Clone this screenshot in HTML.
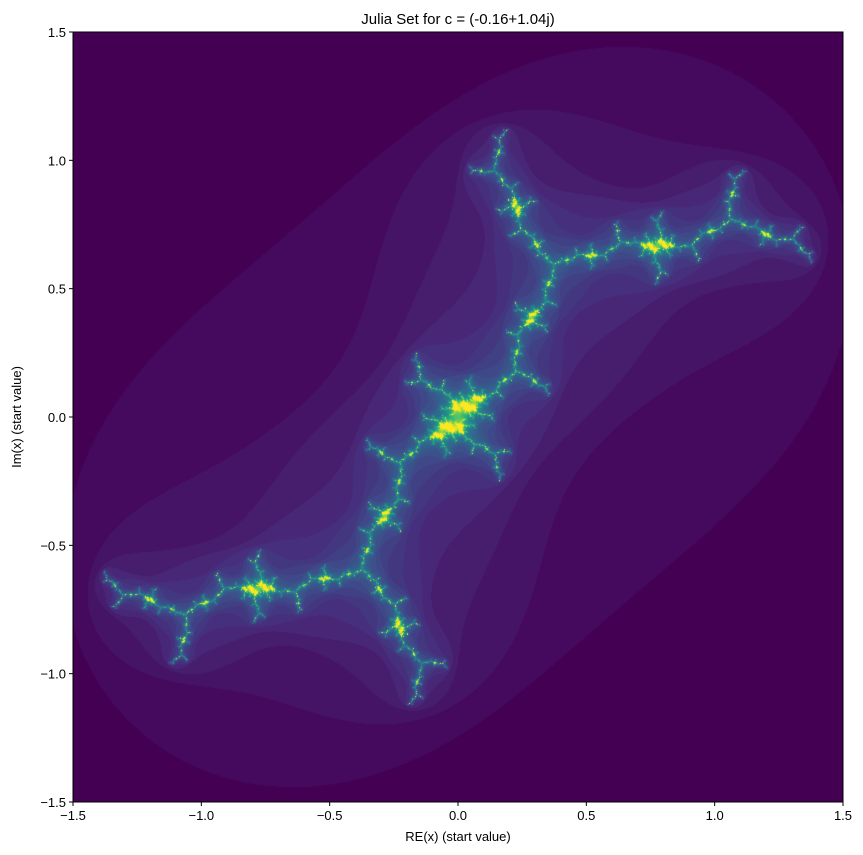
<!DOCTYPE html>
<html><head><meta charset="utf-8"><style>
html,body{margin:0;padding:0;background:#fff;width:863px;height:855px;overflow:hidden;font-family:"Liberation Sans",sans-serif;}
#wrap{position:relative;width:863px;height:855px;}
canvas{position:absolute;left:73px;top:32px;}
</style></head><body>
<div id="wrap">
<canvas id="cv" width="770" height="770"></canvas>
<svg id="ax" width="863" height="855" style="position:absolute;left:0;top:0"></svg>
</div>
<script>
const cReal = -0.16;
const cImag = 1.04;
const maxIter = 38;
const xTicks = [-1.5,-1.0,-0.5,0.0,0.5,1.0,1.5];
const yTicks = [-1.5,-1.0,-0.5,0.0,0.5,1.0,1.5];
const xTickLabels = ["\u22121.5","\u22121.0","\u22120.5","0.0","0.5","1.0","1.5"];
const yTickLabels = ["\u22121.5","\u22121.0","\u22120.5","0.0","0.5","1.0","1.5"];
const titleText = "Julia Set for c = (-0.16+1.04j)";

const L=73,T=32,W=770,H=770;
const sx=v=>L+(v+1.5)/3*W;
const sy=v=>T+(1.5-v)/3*H;
const vir=[[68,1,84],[72,40,120],[62,74,137],[49,104,142],[38,130,142],[31,158,137],[53,183,121],[109,205,89],[180,222,44],[253,231,37]];
function cmap(t){t=Math.max(0,Math.min(1,t))*(vir.length-1);const i=Math.min(vir.length-2,Math.floor(t)),f=t-i;
return vir[i].map((a,k)=>a+(vir[i+1][k]-a)*f);}
const cv=document.getElementById('cv'),ctx=cv.getContext('2d');
const img=ctx.createImageData(W,H);
const counts=new Int32Array(W*H);let mn=1e9,mx=0;
for(let py=0;py<H;py++)for(let px=0;px<W;px++){
 let x=-1.5+(px+0.5)/W*3,y=-1.5+(py+0.5)/H*3,n=0;
 while(n<maxIter&&x*x+y*y<=4){const xt=x*x-y*y+cReal;y=2*x*y+cImag;x=xt;n++;}
 n=Math.max(n,1);
 counts[py*W+px]=n;if(n<mn)mn=n;if(n>mx)mx=n;}
for(let i=0;i<W*H;i++){const c=cmap((counts[i]-mn)/(mx-mn||1));
 img.data[i*4]=c[0];img.data[i*4+1]=c[1];img.data[i*4+2]=c[2];img.data[i*4+3]=255;}
ctx.putImageData(img,0,0);

const svg=document.getElementById('ax');const NS="http://www.w3.org/2000/svg";
function el(tag,attrs,txt){const e=document.createElementNS(NS,tag);for(const k in attrs)e.setAttribute(k,attrs[k]);if(txt!=null)e.textContent=txt;svg.appendChild(e);return e;}
const fr=el('rect',{x:L,y:T,width:W,height:H,fill:'none',stroke:'#000','stroke-width':1});


xTicks.forEach((v,i)=>{
 const tk=el('line',{x1:sx(v),x2:sx(v),y1:T+H,y2:T+H+4,stroke:'#000'});
 
 
 const lb=el('text',{x:sx(v),y:T+H+18,'text-anchor':'middle','font-size':13,'font-family':'Liberation Sans, sans-serif'},xTickLabels[i]);
 
 
});
yTicks.forEach((v,i)=>{
 const tk=el('line',{x1:L-4,x2:L,y1:sy(v),y2:sy(v),stroke:'#000'});
 
 
 const lb=el('text',{x:L-7,y:sy(v)+5,'text-anchor':'end','font-size':13,'font-family':'Liberation Sans, sans-serif'},yTickLabels[i]);
 
 
});
const tt=el('text',{x:L+W/2,y:24,'text-anchor':'middle','font-size':15,'font-family':'Liberation Sans, sans-serif'},titleText);


const xt=el('text',{x:L+W/2,y:841,'text-anchor':'middle','font-size':13,'font-family':'Liberation Sans, sans-serif'},"RE(x) (start value)");


const yt=el('text',{x:0,y:0,'text-anchor':'middle','font-size':13,'font-family':'Liberation Sans, sans-serif',transform:`translate(21,${T+H/2}) rotate(-90)`},"Im(x) (start value)");


</script>
</body></html>
